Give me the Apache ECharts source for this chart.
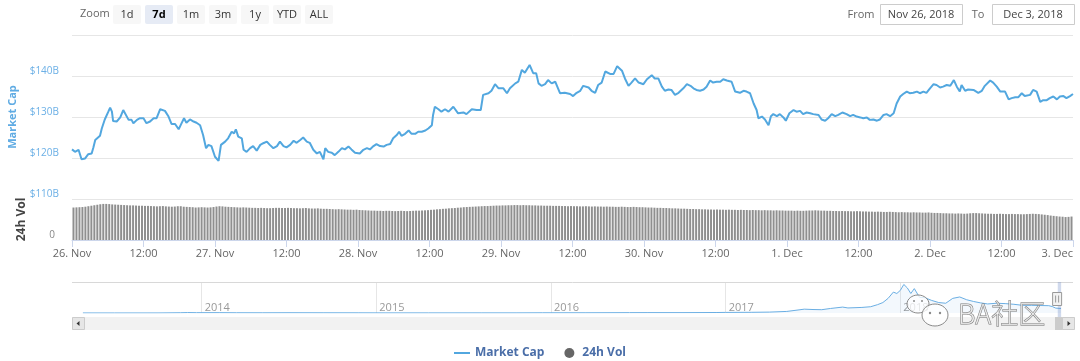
<!DOCTYPE html>
<html><head><meta charset="utf-8">
<script src="https://cdn.jsdelivr.net/npm/echarts@6.0.0/dist/echarts.min.js"></script>
<style>html,body{margin:0;padding:0;background:#fff}#c{width:1080px;height:361px}</style>
</head><body><div id="c"></div>
<script>
// ---- data ----
const dayLabels = ['26. Nov','27. Nov','28. Nov','29. Nov','30. Nov','1. Dec','2. Dec','3. Dec'];
const zoomButtons = ['1d','7d','1m','3m','1y','YTD','ALL'];
const selectedButton = '7d';
const fromDate = 'Nov 26, 2018';
const toDate = 'Dec 3, 2018';
const navYearTicks = [2014, 2015, 2016, 2017, 2018];
const navSelection = [2018.9014, 2018.9205];

// hours since 26 Nov 2018 00:00
const mcHours = [0,0.5,1.1,1.6,2.2,2.7,3.3,3.6,3.9,4.1,4.7,5.0,5.3,5.5,6.1,6.4,6.7,6.9,7.5,8.1,8.6,8.9,9.5,10.0,10.3,10.9,11.4,12.0,12.5,13.1,13.7,14.2,14.8,15.6,16.2,16.7,17.3,17.9,18.4,18.8,19.2,19.8,20.4,20.9,21.5,22.0,22.5,22.9,23.4,24.0,24.6,25.0,25.7,26.2,26.8,27.2,27.5,27.9,28.5,28.8,29.3,29.9,30.4,31.0,31.6,32.1,32.7,33.2,33.8,34.4,34.9,35.5,36.0,36.6,37.2,37.7,38.3,38.8,39.4,39.9,40.5,41.1,41.6,42.2,42.5,43.0,43.6,44.1,44.7,45.3,45.8,46.4,46.9,47.5,48.3,48.9,49.5,50.0,50.6,51.1,51.7,52.3,52.8,53.4,53.9,54.5,54.9,55.3,55.9,56.5,57.0,57.6,58.1,58.7,59.3,59.8,60.4,60.6,60.9,61.5,62.0,62.6,63.2,64.0,64.8,65.7,66.2,67.1,67.9,68.6,69.0,69.9,70.4,71.0,71.6,72.4,73.0,73.5,74.4,74.9,75.5,76.0,76.8,77.4,77.9,78.3,78.8,79.4,79.9,80.5,81.1,81.9,82.7,83.6,84.1,84.7,85.3,85.8,86.7,87.2,87.8,88.3,88.9,89.5,90.3,90.9,91.5,92.3,92.8,93.4,93.9,94.5,95.1,95.9,96.5,97.3,97.8,98.4,99.0,99.5,100.1,100.6,101.2,101.8,102.6,103.2,103.8,104.3,104.8,105.4,106.0,106.5,107.1,107.6,108.2,108.8,109.3,109.9,110.7,111.3,112.1,112.7,113.2,113.8,114.4,114.9,115.2,115.8,116.3,116.9,117.3,117.7,118.3,118.8,119.4,119.8,120.4,121.1,121.6,122.2,122.7,123.3,123.9,124.4,125.3,125.8,126.4,126.9,127.5,128.1,128.6,129.3,130.0,130.6,131.1,131.7,132.3,132.8,133.4,133.9,134.5,135.1,135.6,136.2,136.7,137.3,137.9,138.4,139.0,139.5,140.1,140.6,141.2,141.8,142.3,142.9,143.4,144.0,144.6,145.1,145.7,146.2,146.8,147.4,148.0,148.5,149.0,149.3,149.9,150.4,151.3,152.1,152.7,153.2,154.1,154.6,155.2,155.8,156.6,157.2,157.7,158.3,158.8,159.4,159.9,160.8,161.3,161.9,162.5,163.0,163.6,164.1,164.7,165.3,165.8,166.4,166.9,167.5,168.0];
const mcValues = [122.1,121.5,122.0,119.7,119.9,120.9,121.1,122.6,124.4,124.0,125.4,127.2,127.6,129.4,131.3,132.3,131.3,129.0,128.9,129.9,131.7,131.3,129.3,129.3,128.5,129.3,129.7,129.7,128.5,128.9,129.7,129.7,131.9,131.5,130.1,128.3,128.3,127.0,128.5,129.7,128.6,129.4,128.9,128.6,128.0,125.6,122.4,123.2,122.9,120.3,119.3,123.2,124.0,124.8,126.4,126.0,127.0,125.2,124.8,122.0,121.5,122.4,122.9,121.8,123.2,123.6,124.0,123.2,122.4,122.9,124.0,122.9,122.6,123.2,124.2,123.7,124.4,125.0,124.0,123.7,122.0,121.1,121.5,119.7,122.4,121.5,121.3,120.7,121.5,122.4,122.1,122.8,122.1,121.3,121.1,122.0,122.4,122.1,122.9,123.4,122.9,122.8,123.2,123.4,124.8,125.6,126.4,125.4,125.9,126.7,125.9,125.9,126.4,126.4,126.7,127.2,128.0,130.5,132.5,131.9,131.3,131.9,131.3,132.5,130.9,131.1,130.7,131.9,131.7,131.7,135.4,135.8,136.4,138.0,137.0,137.0,135.8,137.0,138.2,138.6,141.5,140.8,142.7,140.7,140.7,138.2,137.6,138.0,139.0,138.2,138.6,135.8,135.9,135.6,135.1,135.9,136.4,137.6,137.2,136.4,135.9,137.8,138.4,141.1,140.5,140.5,142.4,141.3,139.4,137.6,138.4,139.4,138.4,138.0,139.2,140.2,139.4,139.4,137.4,136.4,136.7,136.6,135.4,135.9,137.0,138.0,137.6,137.0,136.6,136.4,136.7,137.4,138.9,138.4,138.6,138.6,139.2,138.9,138.6,136.2,135.9,136.4,136.2,135.8,133.3,131.7,129.7,130.1,129.4,128.0,130.2,130.7,130.2,130.7,129.9,129.1,130.9,131.7,131.3,131.5,130.7,131.1,130.9,130.7,130.5,129.4,129.1,129.7,130.7,130.2,130.5,131.1,130.7,130.2,130.5,130.1,129.9,129.7,129.9,129.3,129.4,129.1,129.4,130.5,130.7,130.2,130.9,133.3,135.0,135.6,136.2,135.8,135.9,136.2,135.8,136.2,135.9,137.0,138.0,137.8,137.2,137.4,137.8,137.6,139.0,137.4,136.2,137.8,136.4,136.7,136.6,135.9,136.4,137.6,138.9,138.4,137.4,136.2,136.2,134.3,134.6,134.8,134.8,135.8,135.1,135.4,136.6,136.2,133.7,134.1,134.1,134.6,135.0,134.3,135.0,135.1,134.6,135.1,135.6];

// 24h volume ($B), one bar every 30 minutes
const volValues = [
19.8,19.9,20.0,20.1,20.3,20.6,20.9,21.2,21.5,21.8,22.0,22.0,21.9,21.7,21.6,21.5,21.4,21.3,21.2,21.1,21.1,21.0,20.9,20.9,20.8,20.8,20.7,20.6,20.5,20.6,20.7,20.5,20.4,20.3,20.4,20.6,20.6,20.3,20.2,20.1,20.0,19.8,19.9,20.0,19.9,19.8,19.9,20.1,
20.4,20.6,20.5,20.3,20.2,20.1,20.0,19.9,19.8,19.9,19.8,19.7,19.6,19.6,19.5,19.6,19.5,19.4,19.4,19.5,19.6,19.6,19.5,19.5,19.6,19.5,19.4,19.4,19.3,19.4,19.5,19.3,19.2,19.2,19.3,19.1,19.0,19.0,18.9,18.8,18.7,18.8,18.7,18.6,18.5,18.5,18.4,18.5,
18.3,18.2,18.1,18.0,17.9,17.9,17.8,17.8,17.7,17.8,17.8,17.7,17.6,17.7,17.8,17.7,17.6,17.7,17.8,17.9,17.9,18.0,18.1,18.2,18.4,18.5,18.7,18.8,19.0,19.1,19.3,19.4,19.5,19.7,19.8,20.0,20.1,20.2,20.3,20.4,20.5,20.6,20.7,20.7,20.8,20.9,21.0,21.0,
21.1,21.1,21.2,21.2,21.3,21.3,21.2,21.3,21.2,21.2,21.1,21.1,21.0,21.0,20.9,20.9,20.9,20.8,20.8,20.8,20.7,20.7,20.6,20.7,20.6,20.6,20.5,20.5,20.6,20.5,20.4,20.5,20.4,20.4,20.3,20.4,20.3,20.3,20.2,20.2,20.3,20.2,20.1,20.1,20.2,20.1,20.0,20.0,
19.9,19.8,19.8,19.7,19.6,19.6,19.5,19.5,19.4,19.3,19.3,19.2,19.1,19.1,19.0,18.9,18.9,18.8,18.8,18.7,18.7,18.6,18.6,18.5,18.6,18.5,18.5,18.4,18.5,18.4,18.4,18.3,18.4,18.3,18.3,18.2,18.3,18.2,18.2,18.1,18.2,18.1,18.1,18.0,18.1,18.0,18.0,17.9,
17.9,17.9,17.8,17.9,17.8,17.8,17.9,18.0,18.0,18.1,18.0,17.9,17.9,17.8,17.8,17.7,17.7,17.6,17.7,17.6,17.6,17.5,17.5,17.6,17.5,17.4,17.4,17.3,17.3,17.2,17.3,17.2,17.1,17.1,17.2,17.1,17.0,16.9,17.0,16.9,16.9,16.8,16.9,16.8,16.8,16.7,16.7,16.8,
16.6,16.5,16.5,16.4,16.3,16.3,16.2,16.2,16.1,16.2,16.1,16.0,16.1,16.3,16.4,16.4,16.3,16.2,16.1,16.0,16.0,15.9,15.9,16.0,15.9,15.8,15.8,15.9,15.8,15.8,15.7,15.7,15.8,15.9,16.0,15.9,15.8,15.6,15.4,15.2,14.9,14.7,14.5,14.3,14.2,14.0,14.1,14.3
];

// navigator: full history of market cap ($B) by fractional year
const navYears = [2013.32,2013.5,2013.75,2013.88,2013.92,2013.97,2014.1,2014.2,2014.35,2014.5,2014.7,2014.9,2015.05,2015.3,2015.6,2015.8,2015.95,2016.2,2016.45,2016.55,2016.75,2016.95,2017.0,2017.15,2017.25,2017.35,2017.42,2017.45,2017.5,2017.55,2017.6,2017.67,2017.7,2017.78,2017.83,2017.87,2017.9,2017.93,2017.96,2017.98,2018.0,2018.02,2018.04,2018.06,2018.08,2018.11,2018.14,2018.18,2018.22,2018.26,2018.3,2018.34,2018.38,2018.42,2018.46,2018.5,2018.55,2018.6,2018.65,2018.7,2018.75,2018.8,2018.85,2018.87,2018.89,2018.92];
const navValues = [1.5,1.2,1.6,8,13,9,10,7,6,8,6,5,3.5,3.3,4,4,6.5,6.8,10,11,10.5,14,17,20,26,45,90,110,100,95,130,170,145,160,180,240,300,420,600,560,650,820,720,560,700,450,440,360,300,280,420,460,380,330,290,260,280,270,250,220,220,215,210,185,140,130];

// ---- chart ----
const FONT = '"Open Sans", "DejaVu Sans", sans-serif';
const chart = echarts.init(document.getElementById('c'), null, {renderer: 'canvas'});

const mcData = mcHours.map((h, i) => [h, mcValues[i]]);
const volData = volValues.map((v, i) => [i * 0.5 + 0.25, v]);
const navData = navYears.map((y, i) => [y, navValues[i]]);

const graphics = [];
graphics.push({type: 'text', x: 80, y: 14, style: {text: 'Zoom', fill: '#666', font: '11px ' + FONT, verticalAlign: 'middle'}});
zoomButtons.forEach((b, i) => {
  const x = 113 + i * 32;
  const sel = b === selectedButton;
  graphics.push({type: 'rect', shape: {x: x, y: 5, width: 28, height: 19, r: 2}, style: {fill: sel ? '#e6ebf5' : '#f7f7f7'}});
  graphics.push({type: 'text', x: x + 14, y: 14.5, style: {text: b, fill: sel ? '#000' : '#333', font: (sel ? 'bold ' : '') + '11px ' + FONT, align: 'center', verticalAlign: 'middle'}});
});
graphics.push({type: 'text', x: 861, y: 14.5, style: {text: 'From', fill: '#666', font: '11px ' + FONT, align: 'center', verticalAlign: 'middle'}});
graphics.push({type: 'rect', shape: {x: 880.5, y: 4.5, width: 82, height: 20}, style: {fill: '#fff', stroke: '#ccc', lineWidth: 1}});
graphics.push({type: 'text', x: 921, y: 14.5, style: {text: fromDate, fill: '#444', font: '11px ' + FONT, align: 'center', verticalAlign: 'middle'}});
graphics.push({type: 'text', x: 978, y: 14.5, style: {text: 'To', fill: '#666', font: '11px ' + FONT, align: 'center', verticalAlign: 'middle'}});
graphics.push({type: 'rect', shape: {x: 992.5, y: 4.5, width: 82, height: 20}, style: {fill: '#fff', stroke: '#ccc', lineWidth: 1}});
graphics.push({type: 'text', x: 1033, y: 14.5, style: {text: toDate, fill: '#444', font: '11px ' + FONT, align: 'center', verticalAlign: 'middle'}});
// navigator outline
graphics.push({type: 'line', shape: {x1: 72, y1: 282.5, x2: 1073, y2: 282.5}, style: {stroke: '#d8d8d8', lineWidth: 1}});
// scrollbar
graphics.push({type: 'rect', shape: {x: 72, y: 317, width: 1003, height: 13}, style: {fill: '#f2f2f2'}});
graphics.push({type: 'rect', shape: {x: 72.5, y: 317.5, width: 12, height: 12}, style: {fill: '#e6e6e6', stroke: '#ccc', lineWidth: 1}});
graphics.push({type: 'polygon', shape: {points: [[76.5, 323.5], [79.5, 321], [79.5, 326]]}, style: {fill: '#333'}});
graphics.push({type: 'rect', shape: {x: 1055, y: 317, width: 8, height: 13}, style: {fill: '#cccccc'}});
graphics.push({type: 'rect', shape: {x: 1062.5, y: 317.5, width: 12, height: 12}, style: {fill: '#e6e6e6', stroke: '#ccc', lineWidth: 1}});
graphics.push({type: 'polygon', shape: {points: [[1070.5, 323.5], [1067.5, 321], [1067.5, 326]]}, style: {fill: '#333'}});

chart.setOption({
  animation: false,
  backgroundColor: '#fff',
  textStyle: {fontFamily: FONT},
  legend: {
    top: 342, left: 'center', itemWidth: 16, itemHeight: 10, itemGap: 20,
    textStyle: {color: '#4a6ea8', fontWeight: 'bold', fontSize: 12, fontFamily: FONT},
    data: [
      {name: 'Market Cap', icon: 'path://M0,0 L16,0 L16,2 L0,2 Z'},
      {name: '24h Vol', icon: 'circle', itemStyle: {color: '#666'}}
    ]
  },
  grid: [
    {left: 72, right: 7, top: 35, height: 164, outerBoundsMode: 'none'},
    {left: 72, right: 7, top: 199, height: 41, outerBoundsMode: 'none'},
    {left: 27, right: 5, top: 282, height: 31, outerBoundsMode: 'none'}
  ],
  xAxis: [
    {gridIndex: 0, type: 'value', min: 0, max: 168, interval: 12, show: false, splitLine: {show: false}},
    {gridIndex: 1, type: 'value', min: 0, max: 168, interval: 12,
      axisLine: {show: true, onZero: false, lineStyle: {color: '#ccd6eb'}},
      axisTick: {show: true, length: 7, lineStyle: {color: '#ccd6eb'}},
      splitLine: {show: false},
      axisLabel: {color: '#666', fontSize: 11, margin: 8, fontFamily: FONT, alignMaxLabel: 'right',
        formatter: v => (v % 24 === 0 ? dayLabels[v / 24] : '12:00')}
    },
    {gridIndex: 2, type: 'value', min: 2013, max: 2019, interval: 1,
      axisLine: {show: false}, axisTick: {show: false},
      splitLine: {show: true, lineStyle: {color: ['transparent', '#e6e6e6', '#e6e6e6', '#e6e6e6', '#e6e6e6', '#e6e6e6', 'transparent'], width: 1}},
      axisLabel: {inside: true, margin: 0, align: 'left', verticalAlign: 'bottom', padding: [0, 0, 0, 3], color: '#999', fontSize: 11, fontFamily: FONT,
        formatter: v => (navYearTicks.indexOf(v) >= 0 ? String(v) : '')}
    }
  ],
  yAxis: [
    {gridIndex: 0, type: 'value', min: 110, max: 150, interval: 10,
      name: 'Market Cap', nameLocation: 'middle', nameRotate: 90, nameGap: 52,
      nameTextStyle: {color: '#5fabe3', fontSize: 11, fontWeight: 'bold', fontFamily: FONT},
      axisLine: {show: false}, axisTick: {show: false},
      splitLine: {lineStyle: {color: '#e6e6e6'}},
      axisLabel: {color: '#6cb0e6', fontSize: 10, margin: 13, verticalAlign: 'bottom', fontFamily: FONT, showMaxLabel: false,
        formatter: v => (v >= 150 ? '' : '$' + v + 'B')}
    },
    {gridIndex: 1, type: 'value', min: 0, max: 25, interval: 25,
      name: '24h Vol', nameLocation: 'middle', nameRotate: 90, nameGap: 44,
      nameTextStyle: {color: '#444', fontSize: 12, fontWeight: 'bold', fontFamily: FONT},
      axisLine: {show: false}, axisTick: {show: false},
      splitLine: {lineStyle: {color: '#e6e6e6'}},
      axisLabel: {color: '#888', fontSize: 10, margin: 17, verticalAlign: 'bottom', fontFamily: FONT,
        formatter: v => (v === 0 ? '0' : '')}
    },
    {gridIndex: 2, type: 'value', min: 0, max: 890, show: false, splitLine: {show: false}}
  ],
  series: [
    {name: 'Market Cap', type: 'line', xAxisIndex: 0, yAxisIndex: 0, data: mcData, symbol: 'none',
      lineStyle: {color: '#52a7df', width: 2}, itemStyle: {color: '#52a7df'}, z: 5},
    {name: '24h Vol', type: 'bar', xAxisIndex: 1, yAxisIndex: 1, data: volData, barWidth: 2,
      itemStyle: {color: '#8f8f8f'}},
    {name: 'nav', type: 'line', xAxisIndex: 2, yAxisIndex: 2, data: navData, symbol: 'none',
      lineStyle: {color: '#6aaee3', width: 1}, areaStyle: {color: 'rgba(124,181,236,0.13)'}, z: 2}
  ],
  graphic: graphics
});

// navigator selection band + handle, watermark
const p1 = chart.convertToPixel({xAxisIndex: 2}, navSelection[0]);
const p2 = chart.convertToPixel({xAxisIndex: 2}, navSelection[1]);
const extra = graphics.slice();
extra.push({type: 'rect', shape: {x: p1, y: 282, width: Math.max(p2 - p1, 3), height: 35}, style: {fill: 'rgba(102,133,194,0.3)'}, z: 20});
extra.push({type: 'rect', shape: {x: p2 - 8.5, y: 292.5, width: 9, height: 13}, style: {fill: '#f2f2f2', stroke: '#999', lineWidth: 1}, z: 21});
extra.push({type: 'line', shape: {x1: p2 - 5.5, y1: 295.5, x2: p2 - 5.5, y2: 302.5}, style: {stroke: '#999', lineWidth: 1}, z: 22});
extra.push({type: 'line', shape: {x1: p2 - 2.5, y1: 295.5, x2: p2 - 2.5, y2: 302.5}, style: {stroke: '#999', lineWidth: 1}, z: 22});
// watermark
extra.push({type: 'ellipse', shape: {cx: 918, cy: 304, rx: 11, ry: 9}, style: {fill: 'rgba(255,255,255,0.75)', stroke: '#8a8a8a', lineWidth: 1}, z: 30});
extra.push({type: 'ellipse', shape: {cx: 935, cy: 315, rx: 13, ry: 11}, style: {fill: 'rgba(255,255,255,0.8)', stroke: '#8a8a8a', lineWidth: 1}, z: 31});
extra.push({type: 'circle', shape: {cx: 930, cy: 313, r: 1.2}, style: {fill: '#8a8a8a'}, z: 32});
extra.push({type: 'circle', shape: {cx: 940, cy: 313, r: 1.2}, style: {fill: '#8a8a8a'}, z: 32});
extra.push({type: 'circle', shape: {cx: 914, cy: 301, r: 1}, style: {fill: '#8a8a8a'}, z: 30});
extra.push({type: 'circle', shape: {cx: 922, cy: 301, r: 1}, style: {fill: '#8a8a8a'}, z: 30});
extra.push({type: 'text', x: 958, y: 314, style: {text: 'BA社区', font: '300 27px "Noto Sans CJK SC", sans-serif', fill: 'rgba(255,255,255,0.7)', stroke: '#7a7a7a', lineWidth: 1, verticalAlign: 'middle'}, z: 33});
chart.setOption({graphic: extra}, {replaceMerge: ['graphic']});
</script>
</body></html>
